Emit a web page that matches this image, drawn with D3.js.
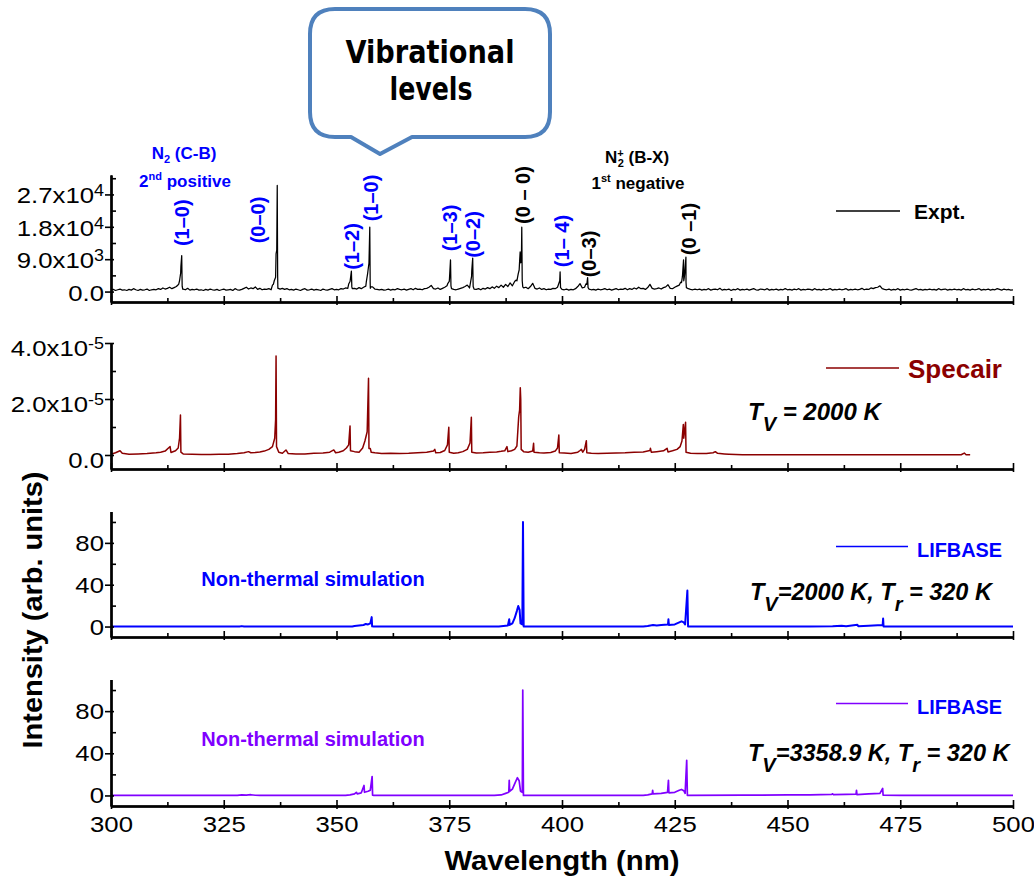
<!DOCTYPE html>
<html><head><meta charset="utf-8"><title>Emission spectra</title>
<script src="https://cdn.jsdelivr.net/npm/d3@7/dist/d3.min.js"></script>
<style>
html,body{margin:0;padding:0;background:#fff;}
svg{display:block;}
</style></head><body>
<script>
// ---------------- DATA ----------------
const wavelengthTicks = [300,325,350,375,400,425,450,475,500];
const wavelengthMinorTicks = [312.5,337.5,362.5,387.5,412.5,437.5,462.5,487.5];

const exptTicks = [0,9000,18000,27000];
const exptTickLabels = [["0.0",""],["9.0x10","3"],["1.8x10","4"],["2.7x10","4"]];
const exptMinorTicks = [4500,13500,22500,31500];

const specairTicks = [0,2e-5,4e-5];
const specairTickLabels = [["0.0",""],["2.0x10","-5"],["4.0x10","-5"]];
const specairMinorTicks = [1e-5,3e-5];

const lifbaseTicks = [0,40,80];
const lifbaseTickLabels = [["0",""],["40",""],["80",""]];
const lifbaseMinorTicks = [20,60,100];

// Experimental spectrum: baseline read every 0.5 nm (units of 100 counts)
const exptNoiseStart = 300, exptNoiseStep = 0.5, exptNoiseUnit = 100;
const exptNoise = [
 4,6,3,5,7,4,5,3,6,4,8,5,3,6,4,5,7,3,5,6,
 5,8,6,10,7,9,12,8,11,14,20,70,7,5,9,4,6,5,7,4,
 5,3,6,4,7,5,4,6,3,5,7,4,5,6,3,8,5,4,6,9,
 12,7,10,8,13,6,9,5,7,6,8,5,20,40,9,7,9,6,8,5,
 6,4,7,5,3,6,8,4,5,7,4,6,5,3,7,5,4,6,8,5,
 6,5,8,7,10,9,28,8,9,7,11,8,12,15,60,9,13,7,6,5,
 6,4,5,7,4,6,5,8,6,5,7,4,6,8,5,9,6,7,5,8,
 9,12,17,8,7,10,6,9,12,16,28,8,6,5,7,9,11,14,18,10,
 60,7,6,8,5,9,7,11,8,13,9,15,11,18,12,20,14,24,16,28,
 30,60,90,10,12,8,14,23,9,7,10,6,8,5,7,6,9,8,12,30,
 6,5,7,4,6,5,8,14,22,10,12,20,7,5,6,4,7,5,6,8,
 5,7,4,6,8,5,7,6,9,5,8,6,10,7,12,8,9,6,11,20,
 9,7,8,10,7,11,13,19,9,8,12,15,18,25,30,25,8,6,5,7,
 5,7,4,6,5,8,4,6,7,5,9,4,6,5,7,3,6,5,8,4,
 6,5,7,4,6,8,5,4,7,6,5,8,4,6,5,7,4,6,5,8,
 5,6,4,7,5,8,4,6,5,7,6,4,8,5,6,4,7,5,6,8,
 4,6,5,7,5,6,8,4,6,5,7,5,6,9,5,7,6,10,8,11,
 12,16,8,6,5,7,4,6,5,8,4,6,5,7,5,4,6,8,5,6,
 4,6,5,7,5,6,4,8,5,6,7,4,6,5,7,5,6,4,8,5,
 6,4,7,5,6,8,4,6,5,7,4,6,5,8,6,4,7,5,6,4,
 5
];
// Experimental band heads [wavelength nm, counts]
const exptPeaks = [
 [314.9,1900],[315.2,3000],[315.45,5200],[315.68,10000],[315.78,1500],[315.9,700],
 [335.8,1800],[336.2,3000],[336.6,10500],[336.75,11500],[336.86,29500],[336.95,4500],[337.1,900],
 [352.7,2100],[353.05,3200],[353.3,5700],[353.4,1300],
 [356.6,2600],[356.9,5000],[357.2,7900],[357.38,17900],[357.47,2400],[357.6,1300],
 [374.7,2300],[375.05,3600],[375.28,8800],[375.38,1600],
 [379.7,2400],[379.95,4200],[380.2,9300],[380.3,1400],
 [389.8,3200],[390.3,5000],[390.6,8400],[390.72,11000],[390.85,8000],[391.08,17900],[391.18,3000],[391.3,1300],
 [399.2,1900],[399.58,5500],[399.68,1100],
 [405.3,2100],[405.68,3900],[405.78,1100],
 [426.3,2600],[426.7,4200],[426.95,8800],[427.1,3800],[427.2,5000],[427.48,9600],[427.58,1100]
];

// Specair, Tv = 2000 K  [wavelength nm, intensity in 1e-6]
const specairUnit = 1e-6;
const specairPoints = [
 [300,0.3],[301,0.8],[302,1.5],[302.5,0.6],[304,0.3],[306,0.4],[308,0.5],[310,0.8],[311,1.0],[312,1.4],
 [312.8,2.6],[313.1,3.0],[313.3,0.9],[314.3,1.5],[314.9,2.5],[315.2,6.0],[315.4,14.3],[315.5,1.0],[316,0.4],
 [318,0.3],[320,0.2],[322,0.2],[324,0.3],[326,0.3],[328,0.5],[329.5,0.8],[330.5,1.2],[331,0.8],[332,0.9],
 [333,1.1],[334,1.4],[335,2.0],[335.8,3.0],[336.3,6.0],[336.5,12.7],[336.6,35.4],[336.7,3.0],[337.2,1.0],
 [338,0.6],[338.8,1.8],[339.3,0.5],[341,0.4],[343,0.4],[345,0.6],[347,0.7],[348.5,1.0],[349.4,1.8],[349.8,0.8],
 [350.5,1.0],[351.5,1.5],[352.2,2.5],[352.7,3.6],[353.0,10.4],[353.1,1.5],[354,1.2],[355,1.0],[355.8,2.5],
 [356.3,5.0],[356.8,8.3],[357.1,27.4],[357.2,2.3],[357.5,2.3],[357.7,1.0],[358.5,0.8],[360,0.5],[362,0.6],
 [364,0.5],[366,0.6],[368,0.8],[370,1.0],[371.5,1.4],[371.8,2.0],[372,0.8],[373,0.9],[374,1.6],[374.6,3.6],
 [374.9,9.9],[375.0,1.0],[376,0.6],[377,0.8],[378,1.2],[379,2.0],[379.6,4.3],[379.9,13.5],[380.0,1.0],
 [381,0.7],[382.5,0.8],[384,1.0],[385.5,1.1],[386.5,1.3],[387.3,1.5],[387.8,3.0],[388,1.2],[388.8,1.5],
 [389.5,2.0],[390.0,3.2],[390.4,13.7],[390.6,16],[390.75,24],[390.85,20],[390.95,2.0],[391.5,1.2],
 [392.5,1.0],[393.5,1.4],[393.7,4.2],[393.8,1.0],[395,0.8],[396,0.7],[397.5,0.9],[398.5,1.4],[399.0,2.5],
 [399.3,7.1],[399.4,0.8],[400.5,0.7],[402,0.5],[403.5,1.0],[404,1.6],[404.3,2.0],[404.6,1.0],[405.0,2.0],
 [405.4,5.1],[405.5,0.8],[406.5,0.6],[408,0.5],[410,0.6],[412,0.7],[414,0.8],[416,1.0],[418,1.1],
 [419.5,1.6],[419.6,2.4],[419.8,1.0],[421,1.2],[422.5,1.5],[423.3,2.4],[423.5,1.1],[424.5,1.5],[425.5,2.0],
 [426.2,3.0],[426.6,5.0],[426.9,10.9],[427.0,6.0],[427.4,11.7],[427.5,1.0],[428.5,0.6],[430,0.5],[432,0.5],
 [433.5,0.8],[434,1.2],[434.5,0.6],[436,0.4],[437,0.3],[440,0.1],[445,0.1],[450,0.05],[455,0.1],[460,0.05],
 [470,0.05],[480,0.05],[488.5,0.1],[489.2,0.7],[489.6,0.1],[490.5,0.05]
];

// LIFBASE non-thermal, Tv = 2000 K, Tr = 320 K
const lifbase2000Points = [
 [300,0],[328.5,0],[329,0.4],[329.5,0],[353.5,0],[354,0.5],[355,1],[356,1.5],[356.5,2.5],[357,2],[357.5,3],
 [357.8,9],[357.9,0.2],[358.2,0],[386,0],[387,0.5],[388,1],[388.3,7],[388.4,1.5],[389,3],[389.5,8],[390,15],
 [390.3,19.6],[390.6,16],[390.8,3],[391.2,2],[391.35,100],[391.5,0],[418,0],[419,0.5],[420.2,1.5],[421,1],
 [422,1.5],[423.5,2],[423.6,7],[423.7,1.5],[425,2],[426,4],[426.5,5],[427,4],[427.3,2],[427.8,34.5],[427.95,0],
 [455,0],[460,0.3],[462,0.8],[463,0.3],[465.5,1.7],[465.7,0.3],[468,0.8],[470,1.2],[471.1,1.5],[471.2,7.6],
 [471.3,0],[500,0]
];
// LIFBASE non-thermal, Tv = 3358.9 K, Tr = 320 K
const lifbase3359Points = [
 [300,0],[328,0],[329,0.6],[330,0.3],[331,0.7],[332,0.2],[333,0],[352,0],[353,0.5],[354,1.5],[354.4,3],
 [354.6,1.5],[355.5,2.5],[356.1,9.5],[356.2,3],[357,4],[357.5,5],[357.9,18],[358.0,0.3],[358.3,0],[385,0],
 [386.5,0.5],[387.5,2],[388.2,3],[388.3,14.3],[388.4,4],[389,6],[389.5,11],[390.1,16.8],[390.5,14],[390.8,4],
 [391.2,3],[391.3,100],[391.45,0],[418,0],[419,0.5],[420,1.5],[420.1,4.8],[420.2,1.5],[422,2],[423.4,3],
 [423.6,14.3],[423.7,2.5],[425,3],[426,5],[426.5,5.7],[427,4.5],[427.3,2],[427.65,33.3],[427.8,0],[440,0.3],
 [450,0.5],[455,0.6],[459.8,1],[460,1.6],[460.2,0.8],[463,1],[465.2,1.2],[465.3,4.8],[465.4,0.8],[468,1.5],
 [470.5,2],[471.1,6.7],[471.2,0.2],[475,0],[500,0]
];

// Band assignments: [label, wavelength nm, level in Expt counts, system]
const bandLabels = [
 ["(1–0)",315.85,19140,"N2"],["(0–0)",332.66,19890,"N2"],["(1–2)",353.37,12526,"N2"],
 ["(1–0)",357.58,26000,"N2"],["(1–3)",375.17,17670,"N2"],["(0–2)",380.33,15860,"N2"],
 ["(0 – 0)",391.35,26840,"N2+"],["(1– 4)",400.0,14055,"N2"],["(0–3)",405.99,10440,"N2+"],
 ["(0 –1)",428.16,17390,"N2+"]
];

// ---------------- DRAWING ----------------
const FONT = "'Liberation Sans', Arial, Helvetica, sans-serif";
const BLUE = "#0000ff", DARKRED = "#8b0000", PURPLE = "#8000ff";
const W = 1034, H = 884, XL = 111, XR = 1013, STRETCH = 1.12, TICKFONT = 23;

const svg = d3.select("body").append("svg")
  .attr("width", W).attr("height", H)
  .style("font-family", FONT);
svg.append("rect").attr("width", W).attr("height", H).attr("fill", "#fff");

const x = d3.scaleLinear().domain([300, 500]).range([XL, XR]);

const exptSeries = exptNoise.map((v, i) => [exptNoiseStart + i * exptNoiseStep, v * exptNoiseUnit])
  .concat(exptPeaks).sort((a, b) => a[0] - b[0]);
const specairSeries = specairPoints.map(d => [d[0], d[1] * specairUnit]);

const panels = [
  {range:[302,175], domain:[-2900,32400], major:exptTicks, labels:exptTickLabels, minor:exptMinorTicks,
   labelDy:9, color:"#000", width:1.25, data:exptSeries},
  {range:[469,343], domain:[-0.5e-5,4e-5], major:specairTicks, labels:specairTickLabels, minor:specairMinorTicks,
   labelDy:13, color:DARKRED, width:1.5, data:specairSeries},
  {range:[637,511.5], domain:[-10,110], major:lifbaseTicks, labels:lifbaseTickLabels, minor:lifbaseMinorTicks,
   labelDy:8, color:BLUE, width:2, data:lifbase2000Points},
  {range:[806,679.5], domain:[-10,110], major:lifbaseTicks, labels:lifbaseTickLabels, minor:lifbaseMinorTicks,
   labelDy:8, color:PURPLE, width:1.7, data:lifbase3359Points}
];

panels.forEach((p, pi) => {
  const y = d3.scaleLinear().domain(p.domain).range(p.range);
  p.y = y;
  const g = svg.append("g");
  // data line
  g.append("path").datum(p.data)
    .attr("fill", "none").attr("stroke", p.color).attr("stroke-width", p.width)
    .attr("stroke-linejoin", "round")
    .attr("d", d3.line().x(d => x(d[0])).y(d => y(d[1])));

  const yb = p.range[0];
  // x axis: major (crossing) + minor (inward)
  const xa = g.append("g").attr("transform", `translate(0,${yb})`);
  xa.append("g").call(d3.axisBottom(x).tickValues(wavelengthTicks).tickSize(-6).tickSizeOuter(0).tickFormat(""));
  const xl = xa.append("g").call(d3.axisBottom(x).tickValues(wavelengthTicks).tickSize(3).tickSizeOuter(0)
      .tickFormat(pi === 3 ? d3.format("d") : ""));
  xa.append("g").call(d3.axisBottom(x).tickValues(wavelengthMinorTicks).tickSize(-4).tickSizeOuter(0).tickFormat(""));
  xl.selectAll("text").attr("y", 26).attr("dy", null).attr("font-size", TICKFONT)
    .attr("font-family", FONT).attr("fill", "#000").attr("transform", `scale(${STRETCH},1)`);

  // y axis: major (crossing) + minor (inward)
  const ya = g.append("g").attr("transform", `translate(${XL},0)`);
  ya.append("g").call(d3.axisLeft(y).tickValues(p.major).tickSize(6).tickSizeOuter(0).tickFormat(""));
  ya.append("g").call(d3.axisLeft(y).tickValues(p.major).tickSize(-3).tickSizeOuter(0).tickFormat(""));
  ya.append("g").call(d3.axisLeft(y).tickValues(p.minor).tickSize(-5).tickSizeOuter(0).tickFormat(""));

  g.selectAll(".domain").attr("stroke", "#000").attr("stroke-width", 2);
  g.selectAll(".tick line").attr("stroke", "#000").attr("stroke-width", 1.6);

  // y tick labels with exponents
  p.major.forEach((v, i) => {
    const lab = p.labels[i];
    const t = g.append("text")
      .attr("transform", `translate(${XL - 7},${y(v) + p.labelDy}) scale(${STRETCH},1)`)
      .attr("text-anchor", "end").attr("font-size", TICKFONT).attr("fill", "#000");
    t.append("tspan").text(lab[0]);
    if (lab[1]) t.append("tspan").attr("dy", -7).attr("font-size", 16).text(lab[1]);
  });
});

// ---------- annotations ----------
const yExpt = panels[0].y;
bandLabels.forEach(b => {
  svg.append("text")
    .attr("transform", `translate(${x(b[1])},${yExpt(b[2])}) rotate(-90)`)
    .attr("text-anchor", "middle").attr("dominant-baseline", "central")
    .attr("font-size", 20).attr("font-weight", "bold")
    .attr("fill", b[3] === "N2" ? BLUE : "#000")
    .text(b[0]);
});

function richText(xp, yp, parts, opts) {
  const t = svg.append("text").attr("x", xp).attr("y", yp)
    .attr("font-weight", "bold").attr("fill", opts.fill || "#000")
    .attr("text-anchor", opts.anchor || "start");
  if (opts.italic) t.attr("font-style", "italic");
  parts.forEach(pt => {
    const s = t.append("tspan").attr("font-size", pt[1]).text(pt[0]);
    if (pt[2]) s.attr("dy", pt[2]);
    if (pt[3]) s.attr("dx", pt[3]);
  });
  return t;
}

// system labels
richText(184, 159, [["N",17],["2",11,4],[" (C-B)",17,-4]], {fill: BLUE, anchor: "middle"});
richText(185, 187, [["2",17],["nd",11,-7],[" positive",17,7]], {fill: BLUE, anchor: "middle"});
richText(637, 163, [["N",17],["+",11,-6],["2",11,10,-6],[" (B-X)",17,-4]], {anchor: "middle"});
richText(638, 189, [["1",17],["st",11,-7],[" negative",17,7]], {anchor: "middle"});

// legends
function legend(x1, x2, yl, color, label, tx, ty, size, tcolor, tlen) {
  svg.append("line").attr("x1", x1).attr("x2", x2).attr("y1", yl).attr("y2", yl)
    .attr("stroke", color).attr("stroke-width", 1.5);
  const t = svg.append("text").attr("x", tx).attr("y", ty).attr("font-size", size)
    .attr("font-weight", "bold").attr("fill", tcolor).text(label);
  if (tlen) t.attr("textLength", tlen).attr("lengthAdjust", "spacingAndGlyphs");
}
legend(836, 900, 211, "#000", "Expt.", 914, 219, 21, "#000");
legend(826, 899, 368, DARKRED, "Specair", 908, 378, 26, DARKRED, 94);
legend(836, 908, 546.5, BLUE, "LIFBASE", 917, 557, 20, BLUE, 85);
legend(836, 908, 703.5, PURPLE, "LIFBASE", 917, 714, 20, BLUE, 85);

// temperatures
richText(748, 420, [["T",24],["V",20,11],[" = 2000 K",24,-11]], {italic: true});
richText(750, 600, [["T",23.5],["V",20,11],["=2000 K, T",23.5,-11],["r",20,11],[" = 320 K",23.5,-11]], {italic: true});
richText(748, 761, [["T",23.5],["V",20,11],["=3358.9 K, T",23.5,-11],["r",20,11],[" = 320 K",23.5,-11]], {italic: true});

// non-thermal labels
svg.append("text").attr("x", 313).attr("y", 586).attr("text-anchor", "middle")
  .attr("font-size", 20).attr("font-weight", "bold").attr("fill", BLUE).text("Non-thermal simulation");
svg.append("text").attr("x", 313).attr("y", 746).attr("text-anchor", "middle")
  .attr("font-size", 20).attr("font-weight", "bold").attr("fill", PURPLE).text("Non-thermal simulation");

// axis titles
svg.append("text").attr("x", 562).attr("y", 870).attr("text-anchor", "middle")
  .attr("font-size", 28).attr("font-weight", "bold").attr("textLength", 235)
  .attr("lengthAdjust", "spacingAndGlyphs").text("Wavelength (nm)");
svg.append("text").attr("transform", "translate(42,610) rotate(-90)").attr("text-anchor", "middle")
  .attr("font-size", 28).attr("font-weight", "bold").attr("textLength", 277)
  .attr("lengthAdjust", "spacingAndGlyphs").text("Intensity (arb. units)");

// callout
svg.append("path")
  .attr("d", "M335,9 H525 Q550,9 550,34 V112 Q550,137 525,137 H412 L380,154 L351,137 H335 Q310,137 310,112 V34 Q310,9 335,9 Z")
  .attr("fill", "#fff").attr("stroke", "#4f81bd").attr("stroke-width", 4).attr("stroke-linejoin", "round");
const cf = "'Liberation Sans Narrow', 'DejaVu Sans Condensed', " + FONT;
svg.append("text").attr("x", 430).attr("y", 63).attr("text-anchor", "middle").attr("font-family", cf)
  .attr("font-size", 32).attr("font-weight", "bold").attr("textLength", 169)
  .attr("lengthAdjust", "spacingAndGlyphs").text("Vibrational");
svg.append("text").attr("x", 431).attr("y", 100).attr("text-anchor", "middle").attr("font-family", cf)
  .attr("font-size", 32).attr("font-weight", "bold").attr("textLength", 83)
  .attr("lengthAdjust", "spacingAndGlyphs").text("levels");
</script>
</body></html>
